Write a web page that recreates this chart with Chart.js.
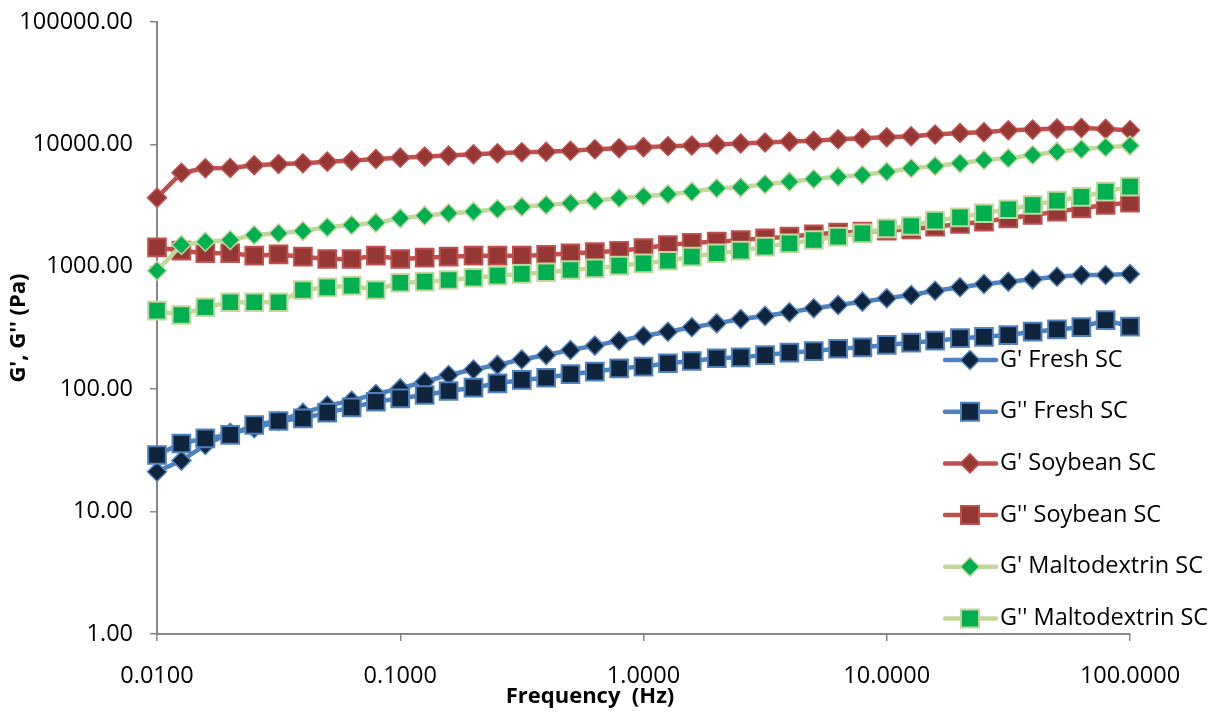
<!DOCTYPE html>
<html>
<head>
<meta charset="utf-8">
<script src="https://cdn.jsdelivr.net/npm/chart.js@4.4.1/dist/chart.umd.min.js"></script>
<style>
  html, body { margin: 0; padding: 0; background: #fff; }
  #wrap { width: 1217px; height: 713px; }
</style>
</head>
<body>
<div id="wrap"><canvas id="myChart" width="1217" height="713"></canvas></div>
<script>
// frequency sweep, Hz
var freqHz = [0.01, 0.0126, 0.0158, 0.02, 0.0251, 0.0316, 0.0398, 0.0501, 0.0631, 0.0794,
  0.1, 0.126, 0.158, 0.2, 0.251, 0.316, 0.398, 0.501, 0.631, 0.794,
  1, 1.26, 1.58, 2, 2.51, 3.16, 3.98, 5.01, 6.31, 7.94,
  10, 12.6, 15.8, 20, 25.1, 31.6, 39.8, 50.1, 63.1, 79.4, 100];

// moduli, Pa
var gpFresh = [21.2, 26.1, 35, 44, 48, 55, 64, 73.5, 80.6, 91.4,
  101.6, 115, 130.6, 145, 158, 175, 190, 209, 227, 249,
  272, 295, 321, 345, 375, 397, 425, 458, 488, 519,
  553, 589, 638, 680, 723, 755, 790, 830, 857, 857, 873];
var gppFresh = [29, 36, 39.7, 42.3, 51, 55, 57.8, 64.3, 71, 79,
  84.2, 89.7, 96.7, 102.9, 111.7, 119, 124, 133, 139, 148,
  153, 163, 170, 179, 182, 190, 199, 205, 214, 220,
  230, 240, 249, 261, 268, 277, 295, 308, 321, 367, 325];
var gpSoy = [3670, 5870, 6380, 6420, 6750, 6920, 7020, 7230, 7370, 7600,
  7790, 7950, 8100, 8300, 8460, 8620, 8700, 8870, 9120, 9300,
  9500, 9650, 9800, 9990, 10180, 10370, 10570, 10700, 11030, 11240,
  11450, 11670, 12040, 12400, 12570, 13050, 13210, 13460, 13630, 13380, 13050];
var gppSoy = [1443, 1354, 1290, 1290, 1233, 1263, 1210, 1158, 1158, 1233,
  1158, 1187, 1210, 1233, 1233, 1233, 1250, 1290, 1316, 1350,
  1420, 1506, 1573, 1604, 1656, 1710, 1762, 1842, 1900, 1936,
  1973, 2024, 2126, 2240, 2337, 2490, 2650, 2822, 3004, 3200, 3344];
var gpMalto = [929, 1506, 1604, 1656, 1820, 1878, 1961, 2102, 2196, 2294,
  2490, 2617, 2738, 2822, 2967, 3100, 3200, 3300, 3468, 3646,
  3760, 3910, 4110, 4380, 4460, 4720, 4960, 5210, 5450, 5620,
  5980, 6380, 6660, 7010, 7460, 7700, 8190, 8720, 9120, 9480, 9770];
var gppMalto = [438, 404, 467, 513, 513, 513, 646, 680, 701, 646,
  741, 756, 780, 814, 846, 874, 902, 942, 972, 1021,
  1067, 1121, 1210, 1290, 1354, 1462, 1556, 1656, 1762, 1878,
  2063, 2155, 2380, 2536, 2738, 2952, 3200, 3468, 3730, 4110, 4520];

var seriesNames = ["G' Fresh SC", "G'' Fresh SC", "G' Soybean SC", "G'' Soybean SC", "G' Maltodextrin SC", "G'' Maltodextrin SC"];
var xTicks = [0.01, 0.1, 1, 10, 100];
var yTicks = [1, 10, 100, 1000, 10000, 100000];

var FONT = "'Open Sans', 'Noto Sans', sans-serif";
var axisGrey = "#868686";

function pts(vals) {
    return freqHz.map(function (f, i) { return { x: f, y: vals[i] }; });
}

function mkSet(idx, vals, lineCol, fillCol, shape) {
    var square = shape === "rect";
    return {
        label: seriesNames[idx],
        data: pts(vals),
        order: 5 - idx,
        borderColor: lineCol,
        borderWidth: 4.5,
        pointStyle: shape,
        pointRadius: square ? 12.5 : 9.5,
        pointHoverRadius: square ? 12.5 : 9.5,
        pointBackgroundColor: fillCol,
        pointBorderColor: lineCol,
        pointBorderWidth: square ? 2 : 1.5,
        tension: 0,
        clip: false
    };
}

var datasets = [
    mkSet(0, gpFresh, "#4F81BD", "#10243E", "rectRot"),
    mkSet(1, gppFresh, "#4F81BD", "#10243E", "rect"),
    mkSet(2, gpSoy, "#C0504D", "#953735", "rectRot"),
    mkSet(3, gppSoy, "#C0504D", "#953735", "rect"),
    mkSet(4, gpMalto, "#C3D69B", "#00B050", "rectRot"),
    mkSet(5, gppMalto, "#C3D69B", "#00B050", "rect")
];

// excel style legend sitting inside the plot + x title a bit left of centre
var extras = {
    id: "extras",
    afterDraw: function (chart) {
        var c = chart.ctx;
        c.save();
        chart.data.datasets.forEach(function (ds, k) {
            var y = 360 + k * 51.7;
            c.strokeStyle = ds.borderColor;
            c.lineWidth = 4.5;
            c.lineCap = "round";
            c.beginPath();
            c.moveTo(945, y);
            c.lineTo(996, y);
            c.stroke();
            c.fillStyle = ds.pointBackgroundColor;
            c.lineWidth = ds.pointBorderWidth;
            c.beginPath();
            if (ds.pointStyle === "rect") {
                c.rect(970 - 9, y - 9, 18, 18);
            } else {
                c.moveTo(970 - 9.5, y);
                c.lineTo(970, y - 9.5);
                c.lineTo(970 + 9.5, y);
                c.lineTo(970, y + 9.5);
                c.closePath();
            }
            c.fill();
            c.stroke();
            c.fillStyle = "#000";
            c.font = "23.5px " + FONT;
            c.textAlign = "left";
            c.textBaseline = "middle";
            c.fillText(ds.label, 1000, y);
        });
        c.font = "bold 22px " + FONT;
        c.textAlign = "center";
        c.textBaseline = "middle";
        c.fillStyle = "#000";
        c.fillText("Frequency  (Hz)", 590, 697);
        c.restore();
    }
};

const ctx = document.getElementById("myChart");
new Chart(ctx, {
    type: "line",
    data: { datasets: datasets },
    options: {
        responsive: false,
        animation: false,
        devicePixelRatio: 1,
        layout: { padding: { left: 0, top: 22, right: 87, bottom: 0 } },
        plugins: {
            legend: { display: false },
            tooltip: { enabled: false }
        },
        scales: {
            x: {
                type: "logarithmic",
                min: 0.01,
                max: 100,
                afterBuildTicks: function (s) { s.ticks = xTicks.map(function (v) { return { value: v }; }); },
                afterFit: function (s) {
                    s.height = 79;
                    s.paddingLeft = 0;
                    s.paddingRight = 0;
                },
                ticks: {
                    autoSkip: false,
                    maxRotation: 0,
                    padding: 21,
                    color: "#000",
                    font: { family: FONT, size: 23.5 },
                    callback: function (v) { return Number(v).toFixed(4); }
                },
                grid: { drawOnChartArea: false, drawTicks: true, tickLength: 7, color: axisGrey, lineWidth: 1.5 },
                border: { display: true, color: axisGrey, width: 2 }
            },
            y: {
                type: "logarithmic",
                min: 1,
                max: 100000,
                afterBuildTicks: function (s) { s.ticks = yTicks.map(function (v) { return { value: v }; }); },
                afterFit: function (s) {
                    s.width = 157;
                    s.paddingTop = 0;
                    s.paddingBottom = 0;
                },
                ticks: {
                    padding: 17,
                    color: "#000",
                    font: { family: FONT, size: 23.5 },
                    callback: function (v) { return Number(v).toFixed(2); }
                },
                grid: { drawOnChartArea: false, drawTicks: true, tickLength: 7, color: axisGrey, lineWidth: 1.5 },
                border: { display: true, color: axisGrey, width: 2 },
                title: {
                    display: true,
                    text: "G', G'' (Pa)",
                    color: "#000",
                    font: { family: FONT, size: 22, weight: "bold" },
                    padding: { top: 6, bottom: 0 }
                }
            }
        }
    },
    plugins: [extras]
});
</script>
</body>
</html>
